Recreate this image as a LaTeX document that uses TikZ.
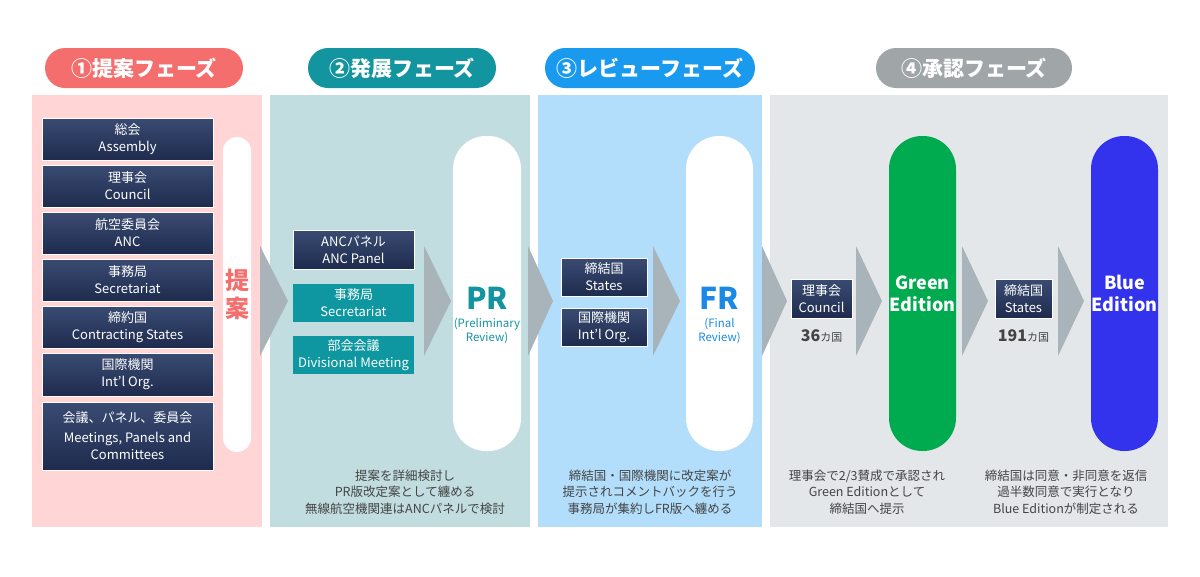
\documentclass[tikz,border=0pt]{standalone}
\usepackage{fontspec}
\setmainfont{Noto Sans CJK JP}
\usetikzlibrary{positioning}
\definecolor{hdrA}{HTML}{F46E6E}
\definecolor{hdrB}{HTML}{13959F}
\definecolor{hdrC}{HTML}{1A9AEF}
\definecolor{hdrD}{HTML}{A0A5A8}
\definecolor{panA}{HTML}{FFD5D6}
\definecolor{panB}{HTML}{C2DDE0}
\definecolor{panC}{HTML}{B3DEFB}
\definecolor{panD}{HTML}{E3E7EA}
\definecolor{navy}{HTML}{1E2B4E}
\definecolor{navyhi}{HTML}{3A4B72}
\definecolor{tealbox}{HTML}{0E97A0}
\definecolor{chev}{HTML}{A9B4BA}
\definecolor{frblue}{HTML}{1A8AE6}
\definecolor{greened}{HTML}{00AA4F}
\definecolor{blueed}{HTML}{3333EE}
\definecolor{txtgrey}{HTML}{444444}
\tikzset{
  hdr/.style={rounded corners=20pt,minimum width=#1,minimum height=40pt,text=white,
    font=\fontsize{21}{24}\selectfont\bfseries,inner sep=0pt},
  navybox/.style={top color=navyhi,bottom color=navy,draw=white,line width=0.4pt,text=white,
    align=center,inner sep=0pt,font=\fontsize{13}{17}\selectfont},
  tealbx/.style={fill=tealbox,text=white,align=center,inner sep=0pt,font=\fontsize{13}{17}\selectfont},
  pill/.style={rounded corners=33pt,minimum width=#1,minimum height=315pt,inner sep=0pt},
  note/.style={align=center,text=txtgrey,font=\fontsize{12.5}{16.5}\selectfont},
}
\begin{document}
\begin{tikzpicture}[x=1pt,y=-1pt]
		\useasboundingbox (0,0) rectangle (1200,576);
		% panels
		\fill[panA] (32,95) rectangle (262,527);
		\fill[panB] (270,95) rectangle (530,527);
		\fill[panC] (538,95) rectangle (762,527);
		\fill[panD] (770,95) rectangle (1168,527);
		% phase headers
		\node (h1) at (144,68) [hdr=198pt,fill=hdrA] {①提案フェーズ};
		\node (h2) at (402,68) [hdr=188pt,fill=hdrB] {②発展フェーズ};
		\node (h3) at (650,68) [hdr=210pt,fill=hdrC] {③レビューフェーズ};
		\node (h4) at (974,68) [hdr=196pt,fill=hdrD] {④承認フェーズ};
		% chevrons
		\foreach \x/\w in {260/28,424/27,528/25,653/27,762/25,856/26,962/26,1058/26}
		{
			\fill[chev] (\x,246) -- (\x+\w,301) -- (\x,356) -- cycle;
		}
		% proposing bodies
		\foreach \y/\h/\t in {118/42/{総会\\Assembly},165/42/{理事会\\Council},212/42/{航空委員会\\ANC},
		  259/42/{事務局\\Secretariat},306/42/{締約国\\Contracting States},353/43/{国際機関\\Int'l Org.},
		  402/68/{会議、パネル、委員会\\[3pt]Meetings, Panels and\\Committees}}
		{
			\node at (127.5,\y+\h/2) [navybox,minimum width=171pt,minimum height=\h pt] {\t};
		}
		\node (prop) at (237,294.5) [pill=28pt,minimum height=315pt,rounded corners=14pt,fill=white] {};
		\node at (prop) [text=hdrA,font=\fontsize{24}{28}\selectfont\bfseries,align=center] {提\\案};
		% development
		\node (panel) at (353.5,249.5) [navybox,minimum width=121pt,minimum height=39pt] {ANCパネル\\ANC Panel};
		\node (sec) at (353.5,303) [tealbx,minimum width=121pt,minimum height=38pt] {事務局\\Secretariat};
		\node (div) at (353.5,355) [tealbx,minimum width=121pt,minimum height=38pt] {部会会議\\Divisional Meeting};
		\node (pr) at (487,293.5) [pill=68pt,fill=white] {};
		\node at (487,298) [text=hdrB,font=\fontsize{30}{32}\selectfont\bfseries] {PR};
		\node at (487,331) [text=hdrB,align=center,font=\fontsize{11.5}{14}\selectfont] {(Preliminary\\Review)};
		% review
		\node (states) at (604,277) [navybox,minimum width=86pt,minimum height=38pt] {締結国\\States};
		\node (intl) at (604,327) [navybox,minimum width=86pt,minimum height=38pt] {国際機関\\Int'l Org.};
		\node (fr) at (719.5,293.5) [pill=67pt,fill=white] {};
		\node at (719.5,298) [text=frblue,font=\fontsize{30}{32}\selectfont\bfseries] {FR};
		\node at (719.5,331) [text=frblue,align=center,font=\fontsize{11.5}{14}\selectfont] {(Final\\Review)};
		% approval
		\node (council) at (821.5,298.5) [navybox,minimum width=61pt,minimum height=39pt] {理事会\\Council};
		\node [below=8pt of council,text=txtgrey,font=\fontsize{11}{13}\selectfont] {\textbf{\fontsize{16}{17}\selectfont 36}カ国};
		\node (green) at (922.5,293.5) [pill=67pt,fill=greened,text=white,align=center,
		  font=\fontsize{18}{22}\selectfont\bfseries] {Green\\Edition};
		\node (cstates) at (1023.5,298.5) [navybox,minimum width=57pt,minimum height=39pt] {締結国\\States};
		\node [below=8pt of cstates,text=txtgrey,font=\fontsize{11}{13}\selectfont] {\textbf{\fontsize{16}{17}\selectfont 191}カ国};
		\node (blue) at (1124.5,293.5) [pill=67pt,fill=blueed,text=white,align=center,
		  font=\fontsize{18}{22}\selectfont\bfseries] {Blue\\Edition};
		% notes
		\node at (405,492) [note] {提案を詳細検討し\\PR版改定案として纏める\\無線航空機関連はANCパネルで検討};
		\node at (650,492) [note] {締結国・国際機関に改定案が\\提示されコメントバックを行う\\事務局が集約しFR版へ纏める};
		\node at (867,492) [note] {理事会で2/3賛成で承認され\\Green Editionとして\\締結国へ提示};
		\node at (1066,492) [note] {締結国は同意・非同意を返信\\過半数同意で実行となり\\Blue Editionが制定される};
	\end{tikzpicture}
\end{document}
